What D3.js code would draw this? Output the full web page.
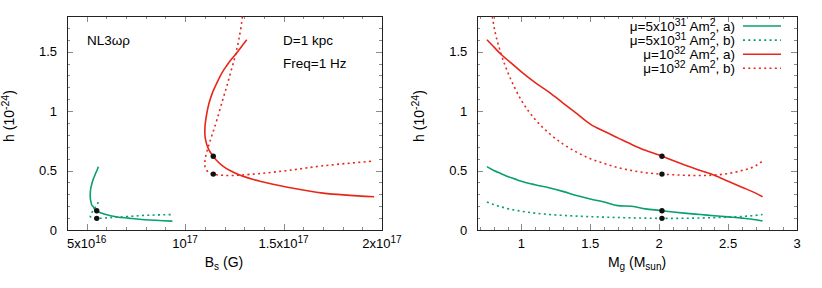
<!DOCTYPE html>
<html lang="en">
<head>
<meta charset="UTF-8">
<script src="https://d3js.org/d3.v7.min.js"></script>
<title>NL3wr strain vs B and M</title>
<style>
  body { margin: 0; background: #fff; }
  svg { font-family: "Liberation Sans", Arial, sans-serif; }
</style>
</head>
<body>
<svg id="chart" width="822" height="288"></svg>
<script>
// stellar mass grid (M_sun), shared by all curves
var massGrid = [0.75, 0.8, 0.85, 0.9, 0.95, 1.0, 1.1, 1.2, 1.3, 1.4, 1.5, 1.6, 1.7, 1.8, 1.9, 2.0, 2.1, 2.2, 2.3, 2.4, 2.5, 2.6, 2.7, 2.75];

// h (1e-24) for each series
var hGreenA = [0.533, 0.50, 0.475, 0.45, 0.43, 0.41, 0.38, 0.355, 0.325, 0.29, 0.26, 0.235, 0.205, 0.20, 0.178, 0.165, 0.152, 0.14, 0.13, 0.12, 0.11, 0.10, 0.086, 0.075];
var hGreenB = [0.235, 0.213, 0.196, 0.18, 0.168, 0.158, 0.142, 0.131, 0.123, 0.117, 0.112, 0.108, 0.105, 0.102, 0.10, 0.098, 0.098, 0.099, 0.101, 0.104, 0.108, 0.114, 0.123, 0.13];
var hRedA = [1.60, 1.54, 1.48, 1.43, 1.38, 1.33, 1.24, 1.16, 1.07, 0.98, 0.89, 0.83, 0.775, 0.72, 0.67, 0.63, 0.585, 0.54, 0.50, 0.46, 0.41, 0.36, 0.31, 0.28];
var hRedB = [2.15, 1.72, 1.49, 1.33, 1.20, 1.09, 0.93, 0.815, 0.725, 0.655, 0.60, 0.56, 0.525, 0.50, 0.482, 0.471, 0.465, 0.46, 0.458, 0.462, 0.475, 0.50, 0.54, 0.58];

// surface field B_s (G) along the same grid
var bsGreen = [5.59e16, 5.52e16, 5.45e16, 5.39e16, 5.34e16, 5.30e16, 5.25e16, 5.21e16, 5.19e16, 5.18e16, 5.19e16, 5.22e16, 5.27e16, 5.32e16, 5.39e16, 5.48e16, 5.61e16, 5.78e16, 5.98e16, 6.20e16, 6.55e16, 7.10e16, 7.95e16, 9.35e16];
var bsRed = [1.313e17, 1.285e17, 1.258e17, 1.232e17, 1.21e17, 1.19e17, 1.162e17, 1.14e17, 1.122e17, 1.11e17, 1.102e17, 1.10e17, 1.102e17, 1.11e17, 1.122e17, 1.138e17, 1.16e17, 1.19e17, 1.228e17, 1.28e17, 1.38e17, 1.52e17, 1.70e17, 1.96e17];

// marked star
var markMass = 2.02;
var markBsGreen = 5.51e16, markBsRed = 1.143e17;
var markH = [0.162, 0.098, 0.62, 0.47];

// ticks
var yTicks = [0, 0.5, 1, 1.5];
var yTickLabels = ["0", "0.5", "1", "1.5"];
var bsTicks = [5e16, 1e17, 1.5e17, 2e17];
var bsTickLabels = [["5x10", "16"], ["10", "17"], ["1.5x10", "17"], ["2x10", "17"]];
var massTicks = [1, 1.5, 2, 2.5, 3];
var massTickLabels = ["1", "1.5", "2", "2.5", "3"];

var legendLabels = [
  ["\u03bc=5x10", "31", " Am", "2", ", a)"],
  ["\u03bc=5x10", "31", " Am", "2", ", b)"],
  ["\u03bc=10", "32", " Am", "2", ", a)"],
  ["\u03bc=10", "32", " Am", "2", ", b)"]
];

var green = "#0a9e73", red = "#e8261a";
var series = [
  {h: hGreenA, bs: bsGreen, color: green, dash: null},
  {h: hGreenB, bs: bsGreen, color: green, dash: "2,3.3"},
  {h: hRedA, bs: bsRed, color: red, dash: null},
  {h: hRedB, bs: bsRed, color: red, dash: "2,3.3"}
];

var svg = d3.select("#chart");

var y = d3.scaleLinear().domain([0, 1.8]).range([230, 16]);
var xL = d3.scaleLinear().domain([4e16, 2e17]).range([67, 382]);
var xR = d3.scaleLinear().domain([0.68, 3]).range([477.3, 797]);

function range(a, b, step) {
  var out = [];
  for (var i = 0; a + i * step <= b + step * 1e-6; i++) out.push(a + i * step);
  return out;
}

function drawFrame(x, xMinor, xMajor, id) {
  var g = svg.append("g");
  var xr = x.range(), yr = y.range();
  var yMinor = range(0, 1.8, 0.1), yMajor = range(0, 1.5, 0.5);

  function ticks(axis, tr, size, vals) {
    var a = g.append("g").attr("transform", tr)
      .call(axis.tickValues(vals).tickSize(size).tickFormat(""));
    a.select(".domain").remove();
    a.selectAll("line").attr("stroke", "#8a8a8a").attr("shape-rendering", "crispEdges");
  }
  ticks(d3.axisBottom(x), "translate(0," + yr[0] + ")", -3, xMinor);
  ticks(d3.axisBottom(x), "translate(0," + yr[0] + ")", -6, xMajor);
  ticks(d3.axisTop(x), "translate(0," + yr[1] + ")", -3, xMinor);
  ticks(d3.axisTop(x), "translate(0," + yr[1] + ")", -6, xMajor);
  ticks(d3.axisLeft(y), "translate(" + xr[0] + ",0)", -3, yMinor);
  ticks(d3.axisLeft(y), "translate(" + xr[0] + ",0)", -6, yMajor);
  ticks(d3.axisRight(y), "translate(" + xr[1] + ",0)", -3, yMinor);
  ticks(d3.axisRight(y), "translate(" + xr[1] + ",0)", -6, yMajor);

  g.append("rect")
    .attr("x", xr[0]).attr("y", yr[1])
    .attr("width", xr[1] - xr[0]).attr("height", yr[0] - yr[1])
    .attr("fill", "none").attr("stroke", "#222").attr("stroke-width", 1)
    .attr("shape-rendering", "crispEdges");

  svg.append("clipPath").attr("id", id)
    .append("rect")
    .attr("x", xr[0]).attr("y", yr[1])
    .attr("width", xr[1] - xr[0]).attr("height", yr[0] - yr[1]);

  // y tick labels
  g.selectAll(".ylab").data(yTicks).join("text")
    .attr("x", xr[0] - 10)
    .attr("y", function (d) { return y(d) + 4.5; })
    .attr("text-anchor", "end")
    .attr("font-size", "13px")
    .text(function (d, i) { return yTickLabels[i]; });

  // y title
  var yt = g.append("text")
    .attr("transform", "translate(" + (xr[0] - 53) + ",116) rotate(-90)")
    .attr("text-anchor", "middle")
    .attr("font-size", "14px");
  yt.append("tspan").text("h (10");
  yt.append("tspan").attr("dy", -5.5).attr("font-size", "10.5px").text("-24");
  yt.append("tspan").attr("dy", 5.5).text(")");
  return g;
}

var gL = drawFrame(xL, range(4e16, 2e17, 1e16), bsTicks, "clipL");
var gR = drawFrame(xR, range(0.7, 3, 0.1), massTicks, "clipR");

// x tick labels, left
bsTicks.forEach(function (t, i) {
  var tx = gL.append("text")
    .attr("x", xL(t)).attr("y", 248)
    .attr("text-anchor", "middle").attr("font-size", "13px");
  tx.append("tspan").text(bsTickLabels[i][0]);
  tx.append("tspan").attr("dy", -5.5).attr("font-size", "10px").text(bsTickLabels[i][1]);
});
massTicks.forEach(function (t, i) {
  gR.append("text")
    .attr("x", xR(t)).attr("y", 248)
    .attr("text-anchor", "middle").attr("font-size", "13px")
    .text(massTickLabels[i]);
});

// x titles
var xtL = gL.append("text").attr("x", 224).attr("y", 267)
  .attr("text-anchor", "middle").attr("font-size", "14px");
xtL.append("tspan").text("B");
xtL.append("tspan").attr("dy", 3).attr("font-size", "10px").text("s");
xtL.append("tspan").attr("dy", -3).text(" (G)");

var xtR = gR.append("text").attr("x", 637).attr("y", 267)
  .attr("text-anchor", "middle").attr("font-size", "14px");
xtR.append("tspan").text("M");
xtR.append("tspan").attr("dy", 3).attr("font-size", "10px").text("g");
xtR.append("tspan").attr("dy", -3).text(" (M");
xtR.append("tspan").attr("dy", 3).attr("font-size", "10px").text("sun");
xtR.append("tspan").attr("dy", -3).text(")");

// annotations, left panel
gL.append("text").attr("x", 87).attr("y", 45).attr("font-size", "13.5px").text("NL3\u03c9\u03c1");
gL.append("text").attr("x", 283).attr("y", 45).attr("font-size", "13.5px").text("D=1 kpc");
gL.append("text").attr("x", 283).attr("y", 68).attr("font-size", "13.5px").text("Freq=1 Hz");

// curves
var curvesL = svg.append("g").attr("clip-path", "url(#clipL)");
var curvesR = svg.append("g").attr("clip-path", "url(#clipR)");

series.forEach(function (s) {
  var ptsL = massGrid.map(function (m, i) { return [s.bs[i], s.h[i]]; });
  var ptsR = massGrid.map(function (m, i) { return [m, s.h[i]]; });
  curvesL.append("path")
    .datum(ptsL)
    .attr("d", d3.line().x(function (d) { return xL(d[0]); }).y(function (d) { return y(d[1]); })
      .curve(d3.curveCatmullRom.alpha(0.5)))
    .attr("fill", "none").attr("stroke", s.color).attr("stroke-width", 1.6)
    .attr("stroke-dasharray", s.dash);
  curvesR.append("path")
    .datum(ptsR)
    .attr("d", d3.line().x(function (d) { return xR(d[0]); }).y(function (d) { return y(d[1]); })
      .curve(d3.curveMonotoneX))
    .attr("fill", "none").attr("stroke", s.color).attr("stroke-width", 1.6)
    .attr("stroke-dasharray", s.dash);
});

// marked star dots
var markBs = [markBsGreen, markBsGreen, markBsRed, markBsRed];
curvesL.selectAll("circle").data(markH).join("circle")
  .attr("cx", function (d, i) { return xL(markBs[i]); })
  .attr("cy", function (d) { return y(d); })
  .attr("r", 2.7).attr("fill", "#111");
curvesR.selectAll("circle").data(markH).join("circle")
  .attr("cx", xR(markMass))
  .attr("cy", function (d) { return y(d); })
  .attr("r", 2.7).attr("fill", "#111");

// legend, right panel
var leg = svg.append("g");
legendLabels.forEach(function (lab, i) {
  var ly = 26 + i * 14.1;
  leg.append("line")
    .attr("x1", 743).attr("x2", 781).attr("y1", ly).attr("y2", ly)
    .attr("stroke", series[i].color).attr("stroke-width", 1.6)
    .attr("stroke-dasharray", series[i].dash);
  var t = leg.append("text").attr("x", 735).attr("y", ly + 5)
    .attr("text-anchor", "end").attr("font-size", "13.5px");
  t.append("tspan").text(lab[0]);
  t.append("tspan").attr("dy", -5.5).attr("font-size", "10.5px").text(lab[1]);
  t.append("tspan").attr("dy", 5.5).text(lab[2]);
  t.append("tspan").attr("dy", -5.5).attr("font-size", "10.5px").text(lab[3]);
  t.append("tspan").attr("dy", 5.5).text(lab[4]);
});
</script>
</body>
</html>
